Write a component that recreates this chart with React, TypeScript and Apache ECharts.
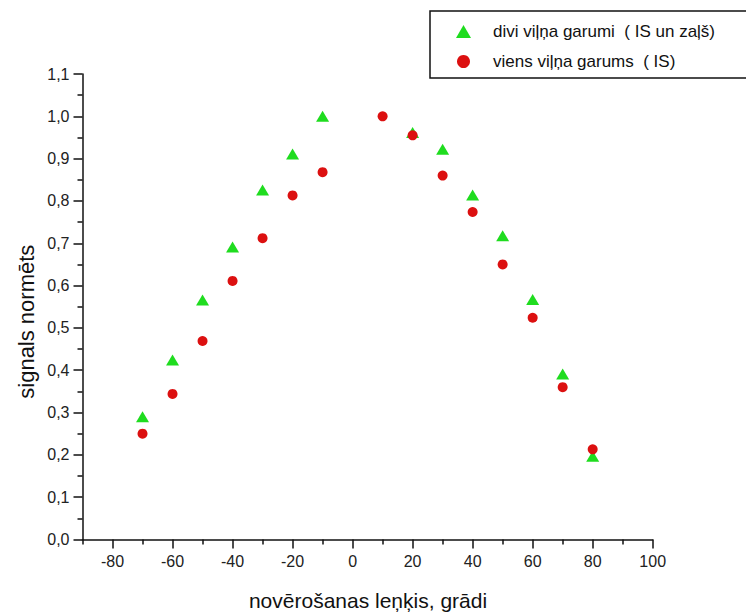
import React, { useEffect, useRef } from "react";
import * as echarts from "echarts";

const triAngles = [-70, -60, -50, -40, -30, -20, -10, 20, 30, 40, 50, 60, 70, 80];
const triValues = [0.29, 0.424, 0.566, 0.691, 0.826, 0.911, 1.0, 0.962, 0.922, 0.814, 0.718, 0.567, 0.391, 0.197];
const dotAngles = [-70, -60, -50, -40, -30, -20, -10, 10, 20, 30, 40, 50, 60, 70, 80];
const dotValues = [0.25, 0.344, 0.469, 0.611, 0.712, 0.813, 0.868, 1.0, 0.955, 0.86, 0.774, 0.65, 0.524, 0.36, 0.213];
const xTickLabels = [-80, -60, -40, -20, 0, 20, 40, 60, 80, 100];
const xMinorTicks = [-90, -70, -50, -30, -10, 10, 30, 50, 70, 90];
const seriesNames = ["divi viļņa garumi  ( IS un zaļš)", "viens viļņa garums  ( IS)"];
const xTitle = "novērošanas leņķis, grādi";
const yTitle = "signals normēts";

const FONT = "'Liberation Sans', Arial, Helvetica, sans-serif";
const GREEN = "#1fdc1f";
const RED = "#dc1010";

export default function App() {
  const ref = useRef<HTMLDivElement>(null);
  useEffect(() => {
    if (!ref.current) return;
    const chart = echarts.init(ref.current, null, { renderer: "svg" });
    const tri = triAngles.map((a, i) => [a, triValues[i]]);
    const dot = dotAngles.map((a, i) => [a, dotValues[i]]);
    const axisLine = { show: true, onZero: false, lineStyle: { color: "#111", width: 1.5 } };
    chart.setOption({
      animation: false,
      backgroundColor: "#ffffff",
      grid: { left: 82.5, right: 93.3, top: 74, bottom: 72.5, containLabel: false },
      legend: {
        orient: "vertical",
        left: 451,
        top: 18,
        itemWidth: 15,
        itemHeight: 13,
        itemGap: 13,
        data: seriesNames,
        textStyle: { fontFamily: FONT, fontSize: 17, color: "#111", padding: [0, 0, 0, 17] },
      },
      xAxis: [
        {
          type: "value",
          min: -90,
          max: 100,
          position: "bottom",
          axisLine,
          splitLine: { show: false },
          axisTick: { show: true, inside: false, length: 9, customValues: xTickLabels, lineStyle: { color: "#111", width: 1.5 } },
          axisLabel: { customValues: xTickLabels, margin: 14, fontFamily: FONT, fontSize: 16, color: "#222" },
        },
        {
          type: "value",
          min: -90,
          max: 100,
          position: "bottom",
          axisLine: { show: false },
          splitLine: { show: false },
          axisTick: { show: true, inside: false, length: 5, customValues: xMinorTicks, lineStyle: { color: "#111", width: 1.5 } },
          axisLabel: { show: false },
        },
      ],
      yAxis: {
        type: "value",
        min: 0,
        max: 1.1,
        interval: 0.1,
        axisLine,
        splitLine: { show: false },
        axisTick: { show: true, inside: false, length: 9, lineStyle: { color: "#111", width: 1.5 } },
        minorTick: { show: true, splitNumber: 2, length: 5, lineStyle: { color: "#111", width: 1.5 } },
        minorSplitLine: { show: false },
        axisLabel: {
          margin: 13,
          fontFamily: FONT,
          fontSize: 16,
          color: "#222",
          formatter: (v: number) => v.toFixed(1).replace(".", ","),
        },
      },
      graphic: [
        {
          type: "rect",
          shape: { x: 430, y: 11, width: 330, height: 67 },
          style: { fill: "none", stroke: "#111", lineWidth: 1.5 },
          z: -1,
        },
        {
          type: "text",
          x: 368,
          y: 600,
          style: { text: xTitle, fontFamily: FONT, fontSize: 21, fill: "#111", align: "center", verticalAlign: "middle" },
        },
        {
          type: "text",
          x: 26.7,
          y: 321.7,
          rotation: Math.PI / 2,
          style: { text: yTitle, fontFamily: FONT, fontSize: 22, fill: "#111", align: "center", verticalAlign: "middle" },
        },
      ],
      series: [
        {
          name: seriesNames[0],
          type: "scatter",
          xAxisIndex: 0,
          symbol: "triangle",
          symbolSize: [13, 11],
          itemStyle: { color: GREEN, opacity: 1 },
          data: tri,
          z: 2,
        },
        {
          name: seriesNames[1],
          type: "scatter",
          xAxisIndex: 0,
          symbol: "circle",
          symbolSize: 10,
          itemStyle: { color: RED, opacity: 1 },
          data: dot,
          z: 3,
        },
      ],
    });
    return () => chart.dispose();
  }, []);
  return <div ref={ref} style={{ position: "fixed", left: 0, top: 0, width: 746, height: 612 }} />;
}
